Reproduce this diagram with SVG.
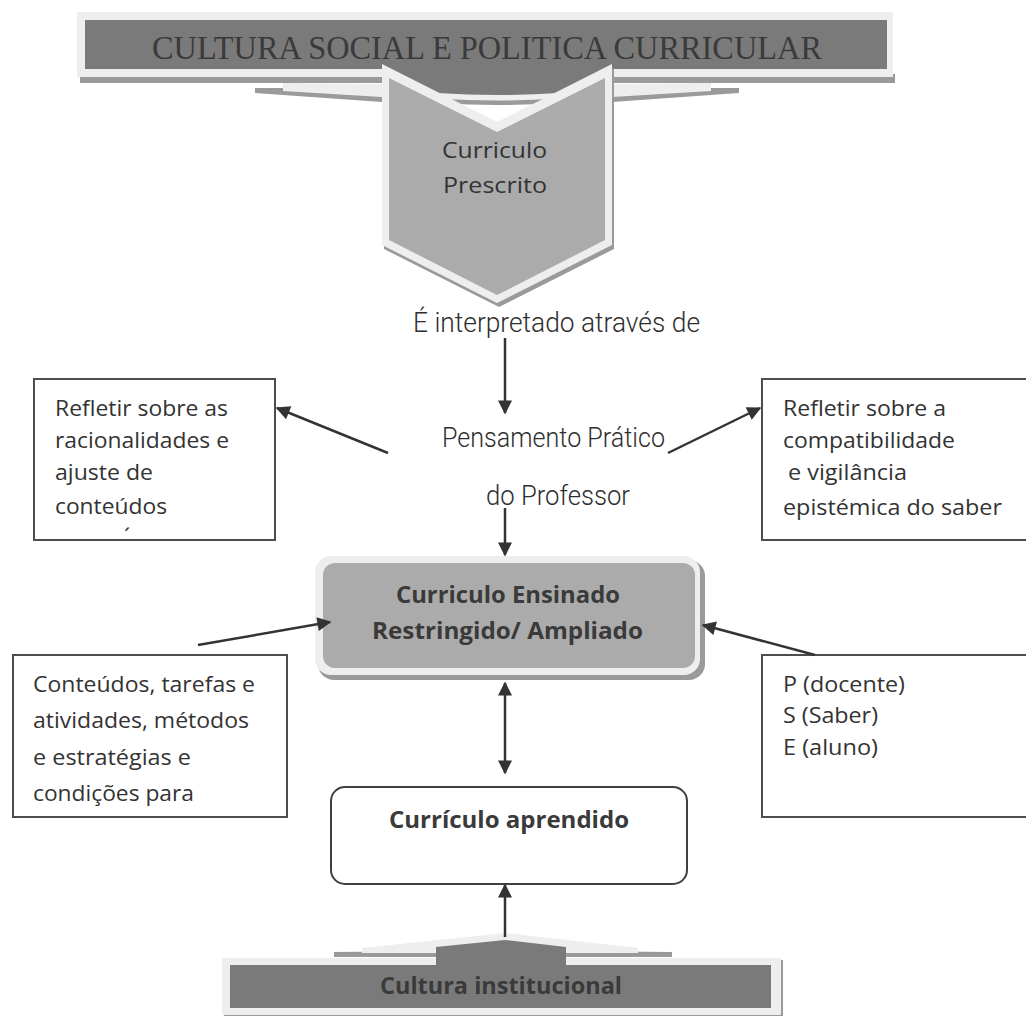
<svg xmlns="http://www.w3.org/2000/svg" width="1026" height="1016" viewBox="0 0 1026 1016">
  <style>
    .box { fill: #ffffff; stroke: #4d4d4d; stroke-width: 2; }
    .txt { font-family: "Open Sans", "Liberation Sans", sans-serif; font-size: 22px; fill: #333333; }
    .bold { font-family: "Open Sans", "Liberation Sans", sans-serif; font-size: 24px; font-weight: bold; fill: #3a3a3a; }
    .mid { font-family: Roboto, "Liberation Sans", sans-serif; font-size: 28px; font-weight: 300; fill: #2e2e2e; }
    .serif { font-family: "Liberation Serif", serif; font-size: 34px; fill: #3a3a3a; }
    .light { fill: #eeeeee; }
    .dark { fill: #7a7a7a; }
    .shade { fill: #9a9a9a; }
    .conn { stroke: #333333; stroke-width: 2.5; fill: none; marker-end: url(#arrow); }
  </style>
  <defs>
    <marker id="arrow" viewBox="0 0 10 10" refX="9" refY="5" markerUnits="userSpaceOnUse" markerWidth="15" markerHeight="14" orient="auto-start-reverse">
      <path d="M0,0 L10,5 L0,10 Z" fill="#333333"/>
    </marker>
  </defs>

  <rect width="1026" height="1016" fill="#ffffff"/>

  <!-- top banner: social culture and curriculum policy -->
  <g id="cultura-social">
    <polygon class="shade" points="255,88 283,88 382,92 382,102 255,93"/>
    <polygon class="light" points="283,83 382,84 382,97 283,91"/>
    <polygon class="shade" points="739,88 711,88 612,92 612,102 739,93"/>
    <polygon class="light" points="711,83 612,84 612,97 711,91"/>
    <rect class="shade" x="80" y="74" width="815" height="9"/>
    <rect class="light" x="77" y="12" width="816" height="65"/>
    <rect class="dark" x="85" y="20" width="802" height="49"/>
    <path class="shade" d="M382,85 L612,85 L612,97 Q497,113 382,97 Z"/>
    <path class="light" d="M382,66 L612,66 L612,93 Q497,108 382,93 Z"/>
    <path class="dark" d="M382,60 L612,60 L612,88 Q497,102 382,88 Z"/>
    <text class="serif" x="152" y="59" textLength="670" lengthAdjust="spacingAndGlyphs">CULTURA SOCIAL E POLITICA CURRICULAR</text>
  </g>

  <!-- prescribed curriculum chevron -->
  <g id="curriculo-prescrito">
    <polygon class="shade" points="384,68 499,126 614,68 614,249 499,307 384,249"/>
    <polygon class="light" points="382,64 497,122 612,64 612,245 497,303 382,245"/>
    <polygon fill="#ababab" points="389,78 497,132 605,78 605,240 497,295 389,240"/>
    <text class="txt" font-size="24" x="442" y="158" textLength="105" lengthAdjust="spacingAndGlyphs">Curriculo</text>
    <text class="txt" font-size="24" x="443" y="193" textLength="104" lengthAdjust="spacingAndGlyphs">Prescrito</text>
  </g>

  <!-- labels of the middle column -->
  <g id="interpretado">
    <text class="mid" x="413" y="332" textLength="287" lengthAdjust="spacingAndGlyphs">É interpretado através de</text>
  </g>
  <g id="pensamento-pratico">
    <text class="mid" x="442" y="447" textLength="223" lengthAdjust="spacingAndGlyphs">Pensamento Prático</text>
    <text class="mid" x="486" y="505" textLength="144" lengthAdjust="spacingAndGlyphs">do Professor</text>
  </g>

  <!-- reflection boxes -->
  <g id="refletir-racionalidades">
    <rect class="box" x="34" y="379" width="241" height="161"/>
    <text class="txt" x="55" y="416" textLength="173" lengthAdjust="spacingAndGlyphs">Refletir sobre as</text>
    <text class="txt" x="55" y="448" textLength="174" lengthAdjust="spacingAndGlyphs">racionalidades e</text>
    <text class="txt" x="55" y="480" textLength="98" lengthAdjust="spacingAndGlyphs">ajuste de</text>
    <text class="txt" x="55" y="514" textLength="112" lengthAdjust="spacingAndGlyphs">conteúdos</text>
    <text class="txt" x="124" y="544">´</text>
  </g>
  <g id="refletir-compatibilidade">
    <rect class="box" x="762" y="379" width="270" height="161"/>
    <text class="txt" x="783" y="416" textLength="163" lengthAdjust="spacingAndGlyphs">Refletir sobre a</text>
    <text class="txt" x="783" y="448" textLength="172" lengthAdjust="spacingAndGlyphs">compatibilidade</text>
    <text class="txt" x="788" y="480" textLength="119" lengthAdjust="spacingAndGlyphs">e vigilância</text>
    <text class="txt" x="783" y="515" textLength="219" lengthAdjust="spacingAndGlyphs">epistémica do saber</text>
  </g>

  <!-- taught curriculum -->
  <g id="curriculo-ensinado">
    <rect class="shade" x="318" y="560" width="387" height="120" rx="16"/>
    <rect class="light" x="315" y="556" width="385" height="119" rx="16"/>
    <rect fill="#ababab" x="323" y="563" width="372" height="105" rx="12"/>
    <text class="bold" x="396" y="603" textLength="224" lengthAdjust="spacingAndGlyphs">Curriculo Ensinado</text>
    <text class="bold" x="372" y="639" textLength="271" lengthAdjust="spacingAndGlyphs">Restringido/ Ampliado</text>
  </g>

  <g id="conteudos">
    <rect class="box" x="13" y="655" width="274" height="162"/>
    <text class="txt" font-size="23" x="33" y="692" textLength="222" lengthAdjust="spacingAndGlyphs">Conteúdos, tarefas e</text>
    <text class="txt" font-size="23" x="33" y="728" textLength="216" lengthAdjust="spacingAndGlyphs">atividades, métodos</text>
    <text class="txt" font-size="23" x="33" y="765" textLength="158" lengthAdjust="spacingAndGlyphs">e estratégias e</text>
    <text class="txt" font-size="23" x="33" y="801" textLength="161" lengthAdjust="spacingAndGlyphs">condições para</text>
  </g>
  <g id="triangulo-didatico">
    <rect class="box" x="762" y="655" width="270" height="162"/>
    <text class="txt" x="783" y="692" textLength="122" lengthAdjust="spacingAndGlyphs">P (docente)</text>
    <text class="txt" x="783" y="723" textLength="95" lengthAdjust="spacingAndGlyphs">S (Saber)</text>
    <text class="txt" x="783" y="755" textLength="95" lengthAdjust="spacingAndGlyphs">E (aluno)</text>
  </g>

  <!-- learned curriculum -->
  <g id="curriculo-aprendido">
    <rect x="331" y="787" width="356" height="97" rx="14" fill="#ffffff" stroke="#404040" stroke-width="2"/>
    <text class="bold" x="389" y="828" textLength="240" lengthAdjust="spacingAndGlyphs">Currículo aprendido</text>
  </g>

  <!-- bottom banner: institutional culture -->
  <g id="cultura-institucional">
    <polygon class="shade" points="334,952 436,951 436,957 334,957"/>
    <polygon class="shade" points="566,951 672,952 672,957 566,957"/>
    <polygon class="light" points="362,953 362,948 505,933 638,948 638,953"/>
    <rect class="shade" x="224" y="960" width="559" height="57"/>
    <rect class="light" x="222" y="958" width="559" height="57"/>
    <rect class="dark" x="230" y="965" width="541" height="43"/>
    <polygon class="dark" points="436,966 436,947 505,940 566,947 566,966"/>
    <text class="bold" x="380" y="994" textLength="242" lengthAdjust="spacingAndGlyphs">Cultura institucional</text>
  </g>

  <!-- connectors -->
  <g id="connectors">
    <line class="conn" x1="505" y1="338" x2="505" y2="413"/>
    <line class="conn" x1="505" y1="508" x2="505" y2="555"/>
    <line class="conn" x1="388" y1="453" x2="277" y2="408"/>
    <line class="conn" x1="668" y1="453" x2="760" y2="408"/>
    <line class="conn" x1="198" y1="645" x2="330" y2="622"/>
    <line class="conn" x1="815" y1="655" x2="703" y2="625"/>
    <line class="conn" x1="505" y1="683" x2="505" y2="773" marker-start="url(#arrow)"/>
    <line class="conn" x1="505" y1="937" x2="505" y2="885"/>
  </g>
</svg>
